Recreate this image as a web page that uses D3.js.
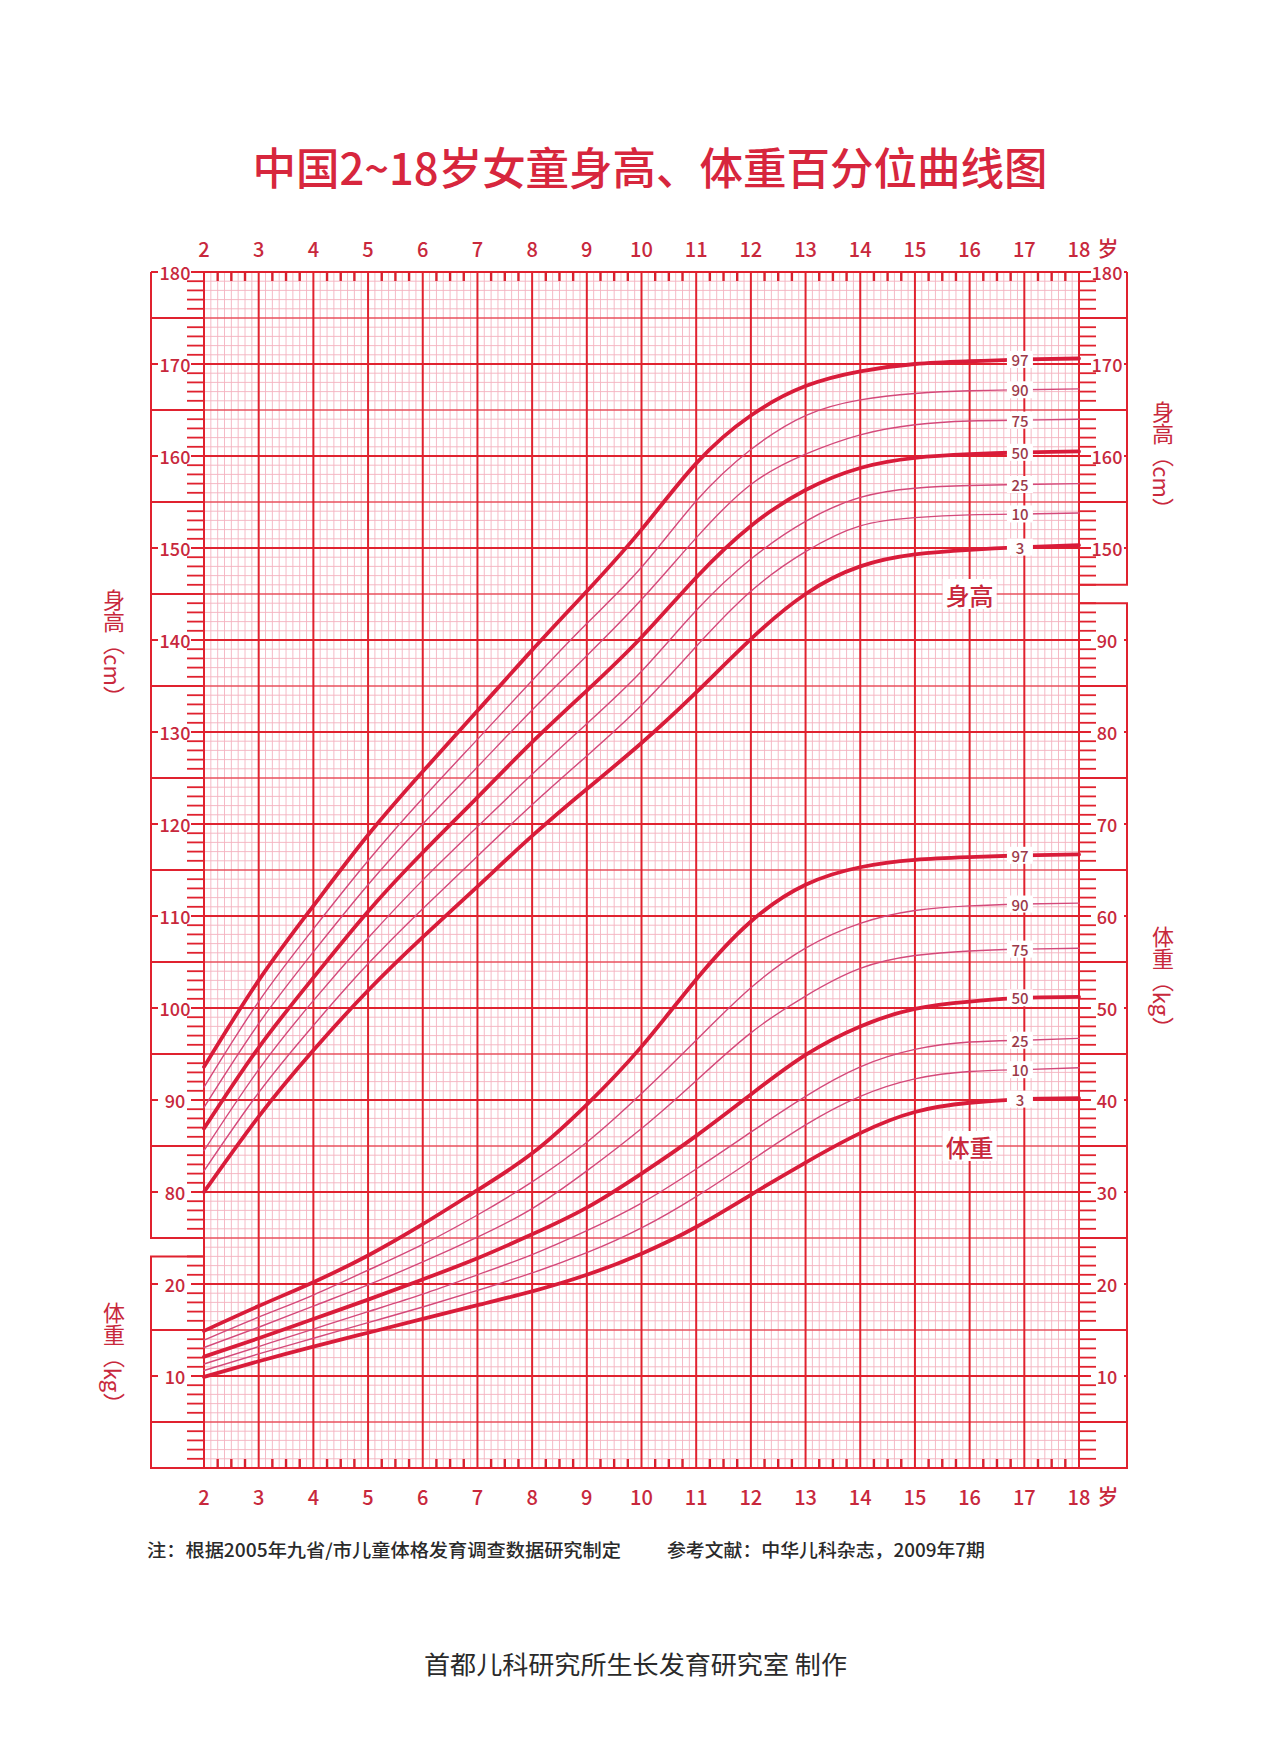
<!DOCTYPE html>
<html><head>
<meta charset="utf-8">
<title>中国2~18岁女童身高、体重百分位曲线图</title>
<script src="https://d3js.org/d3.v7.min.js"></script>
<style>
  body { margin: 0; background: #fff; }
  svg text { font-family: "Noto Sans CJK SC", "Noto Sans", sans-serif; }
  .num { font-size: 18px; fill: #c8283c; font-weight: 500; }
  .yr { font-size: 20px; fill: #c8283c; font-weight: 500; }
  .side { font-size: 22px; fill: #c8283c; writing-mode: vertical-rl; text-orientation: mixed; }
  .plab { font-size: 15px; fill: #9c3a4a; font-weight: 500; }
  .note { font-size: 18px; fill: #2a2a2a; font-weight: 500; }
</style>
</head>
<body>
<script>
// ages (years) and percentile names
var ages = [2, 3, 4, 5, 6, 7, 8, 9, 10, 11, 12, 13, 14, 15, 16, 17, 18];
var pctNames = ["3", "10", "25", "50", "75", "90", "97"];

// height (cm), one array per percentile
var heightP3  = [80.0, 88.2, 95.4, 101.9, 107.7, 113.2, 118.7, 123.8, 128.8, 134.3, 140.1, 145.0, 148.0, 149.3, 149.8, 150.1, 150.3];
var heightP10 = [82.3, 90.8, 98.1, 104.8, 110.8, 116.5, 122.1, 127.4, 132.9, 139.3, 145.3, 149.6, 152.4, 153.3, 153.6, 153.7, 153.8];
var heightP25 = [84.5, 93.3, 100.8, 107.6, 113.9, 119.7, 125.4, 130.9, 136.6, 143.2, 148.8, 152.9, 155.5, 156.5, 156.8, 156.9, 157.0];
var heightP50 = [86.9, 95.7, 103.3, 110.5, 116.9, 122.9, 128.9, 134.5, 140.3, 146.8, 152.4, 156.3, 158.7, 159.8, 160.2, 160.4, 160.5];
var heightP75 = [89.2, 98.3, 106.1, 113.4, 120.0, 126.2, 132.4, 138.3, 144.4, 151.1, 156.9, 160.2, 162.3, 163.4, 163.8, 163.9, 164.0];
var heightP90 = [91.4, 100.7, 108.6, 116.0, 122.8, 129.2, 135.6, 141.8, 147.9, 155.1, 160.7, 164.4, 166.1, 166.8, 167.1, 167.2, 167.3];
var heightP97 = [93.6, 103.0, 111.1, 118.8, 125.7, 132.3, 138.9, 145.3, 152.0, 159.2, 164.4, 167.6, 169.2, 170.0, 170.3, 170.5, 170.6];

// weight (kg)
var weightP3  = [9.9, 11.6, 13.2, 14.7, 16.2, 17.7, 19.2, 21.0, 23.3, 26.2, 29.7, 33.2, 36.4, 38.7, 39.7, 40.1, 40.2];
var weightP10 = [10.6, 12.4, 14.1, 15.8, 17.5, 19.3, 21.2, 23.4, 26.1, 29.5, 33.4, 37.3, 40.4, 42.3, 43.1, 43.3, 43.5];
var weightP25 = [11.3, 13.2, 15.1, 17.0, 18.9, 21.0, 23.2, 25.8, 28.8, 32.5, 36.5, 40.4, 43.6, 45.5, 46.3, 46.5, 46.7];
var weightP50 = [12.1, 14.1, 16.2, 18.3, 20.5, 22.8, 25.4, 28.3, 32.0, 36.1, 40.6, 44.9, 48.0, 49.9, 50.7, 51.1, 51.2];
var weightP75 = [13.1, 15.3, 17.6, 19.9, 22.4, 25.1, 28.2, 32.3, 36.9, 42.1, 47.3, 51.3, 54.3, 55.7, 56.2, 56.4, 56.5];
var weightP90 = [13.9, 16.4, 18.8, 21.5, 24.3, 27.5, 31.1, 35.4, 40.7, 46.5, 52.2, 56.5, 59.2, 60.6, 61.1, 61.3, 61.4];
var weightP97 = [14.9, 17.6, 20.2, 23.1, 26.5, 30.2, 34.2, 39.5, 45.8, 53.1, 59.4, 63.4, 65.3, 66.1, 66.4, 66.6, 66.7];

var heightSeries = [heightP3, heightP10, heightP25, heightP50, heightP75, heightP90, heightP97];
var weightSeries = [weightP3, weightP10, weightP25, weightP50, weightP75, weightP90, weightP97];

// axis labels
var heightLeftLabels = [80, 90, 100, 110, 120, 130, 140, 150, 160, 170, 180];
var heightRightLabels = [150, 160, 170, 180];
var weightLeftLabels = [10, 20];
var weightRightLabels = [10, 20, 30, 40, 50, 60, 70, 80, 90];

var W = 1279, H = 1758;
var X0 = 204, X1 = 1079, YT = 272, YB = 1468;
var LB = 151, RB = 1127;
var RED = "#e0222f", RED2 = "#e8505c", PINK = "#f4b2c0";

var svg = d3.select("body").append("svg")
    .attr("width", W).attr("height", H)
    .style("background", "#fff");

var x = d3.scaleLinear().domain([2, 18]).range([X0, X1]);
var yH = d3.scaleLinear().domain([50, 180]).range([YB, YT]);
var yW = d3.scaleLinear().domain([0, 130]).range([YB, YT]);

// title
svg.append("text")
    .attr("x", 650).attr("y", 166)
    .attr("text-anchor", "middle").attr("dominant-baseline", "central")
    .attr("textLength", 795).attr("lengthAdjust", "spacingAndGlyphs")
    .style("font-size", "44px").style("fill", "#d7263d").style("font-weight", 500)
    .text("中国2~18岁女童身高、体重百分位曲线图");

// ---- grid ----
var grid = svg.append("g");
var vals = d3.range(50, 181);
var vsteps = d3.range(0, 16 * 8 + 1);

function hline(g, v, col, w) {
    g.append("line").attr("x1", X0).attr("x2", X1)
        .attr("y1", yH(v)).attr("y2", yH(v))
        .attr("stroke", col).attr("stroke-width", w);
}
function vline(g, a, col, w) {
    g.append("line").attr("x1", x(a)).attr("x2", x(a))
        .attr("y1", YT).attr("y2", YB)
        .attr("stroke", col).attr("stroke-width", w);
}
// minor
vals.filter(function(v) { return v % 5 != 0; }).forEach(function(v) { hline(grid, v, PINK, 0.9); });
vsteps.filter(function(k) { return k % 8 != 0; }).forEach(function(k) { vline(grid, 2 + k / 8, PINK, 0.9); });
// 5s
vals.filter(function(v) { return v % 5 == 0 && v % 10 != 0; }).forEach(function(v) { hline(grid, v, RED2, 1.3); });
// majors
vals.filter(function(v) { return v % 10 == 0; }).forEach(function(v) { hline(grid, v, RED, 2); });
ages.forEach(function(a) { vline(grid, a, RED, 2); });

// quarter ticks top & bottom
vsteps.filter(function(k) { return k % 2 == 0 && k % 8 != 0; }).forEach(function(k) {
    var a = 2 + k / 8;
    grid.append("line").attr("x1", x(a)).attr("x2", x(a)).attr("y1", YT).attr("y2", YT + 9)
        .attr("stroke", "#d8202e").attr("stroke-width", 2.4);
    grid.append("line").attr("x1", x(a)).attr("x2", x(a)).attr("y1", YB).attr("y2", YB - 9)
        .attr("stroke", "#d8202e").attr("stroke-width", 2.4);
});

// ---- side boxes ----
var side = svg.append("g").attr("stroke", RED).attr("stroke-width", 2).attr("fill", "none");
function box(inner, outer, y1, y2, top) {
    // top edge only when no label sits on it
    var d = top ? "M" + inner + "," + y1 + "H" + outer : "M" + outer + "," + y1;
    d += "V" + y2 + "H" + inner;
    side.append("path").attr("d", d);
}
box(X0, LB, yH(180), yH(75), false);
box(X0, LB, yW(23), yW(0), true);
box(X1, RB, yH(180), yH(146), false);
box(X1, RB, yW(94), yW(0), true);

function sideScale(scale, lo, hi, labels, isLeft) {
    var edge = isLeft ? X0 : X1, outer = isLeft ? LB : RB, dir = isLeft ? -1 : 1;
    var cx = isLeft ? 175 : 1107;
    d3.range(lo, hi + 1).forEach(function(v) {
        var y = scale(v);
        if (labels.indexOf(v) >= 0) {
            side.append("line").attr("x1", edge).attr("x2", cx - dir * 16)
                .attr("y1", y).attr("y2", y);
            side.append("line").attr("x1", outer).attr("x2", cx + dir * 17)
                .attr("y1", y).attr("y2", y);
            svg.append("text").attr("class", "num")
                .attr("x", cx).attr("y", y)
                .attr("text-anchor", "middle").attr("dominant-baseline", "central")
                .text(v);
        } else if (v % 5 == 0) {
            side.append("line").attr("x1", edge).attr("x2", outer).attr("y1", y).attr("y2", y);
        } else {
            side.append("line").attr("x1", edge).attr("x2", edge + dir * 17)
                .attr("y1", y).attr("y2", y).attr("stroke-width", 1.8);
        }
    });
}
sideScale(yH, 75, 180, heightLeftLabels, true);
sideScale(yW, 0, 23, weightLeftLabels, true);
sideScale(yH, 146, 180, heightRightLabels, false);
sideScale(yW, 0, 94, weightRightLabels, false);

// year labels
[[248, "top"], [1496, "bottom"]].forEach(function(p) {
    svg.append("g").selectAll("text").data(ages).join("text")
        .attr("class", "yr")
        .attr("x", function(d) { return x(d); }).attr("y", p[0])
        .attr("text-anchor", "middle").attr("dominant-baseline", "central")
        .text(function(d) { return d; });
    svg.append("text").attr("class", "yr").style("font-size", "21px")
        .attr("x", x(18) + 29).attr("y", p[0] - 1)
        .attr("text-anchor", "middle").attr("dominant-baseline", "central")
        .text("岁");
});

// side titles (vertical)
[[114, 648, "身高（cm）"], [114, 1358, "体重（kg）"], [1163, 460, "身高（cm）"], [1163, 982, "体重（kg）"]]
    .forEach(function(t) {
        svg.append("text").attr("class", "side")
            .attr("x", t[0]).attr("y", t[1])
            .attr("text-anchor", "middle")
            .text(t[2]);
    });

// ---- curves ----
var line = d3.line().curve(d3.curveNatural);
function drawCurves(series, scale) {
    var g = svg.append("g").attr("fill", "none");
    series.forEach(function(vs, i) {
        var thick = (i == 0 || i == 3 || i == 6);
        g.append("path")
            .attr("d", line(ages.map(function(a, j) { return [x(a), scale(vs[j])]; })))
            .attr("stroke", thick ? "#d91c3a" : "#d4497a")
            .attr("stroke-width", thick ? 3.8 : 1.4)
            .attr("stroke-linecap", "round");
    });
    var lx = x(16.92);
    series.forEach(function(vs, i) {
        var y = scale(vs[15]);
        svg.append("rect").attr("x", lx - 13).attr("y", y - 8.5)
            .attr("width", 26).attr("height", 17).attr("fill", "#fff");
        svg.append("text").attr("class", "plab")
            .attr("x", lx).attr("y", y)
            .attr("text-anchor", "middle").attr("dominant-baseline", "central")
            .text(pctNames[i]);
    });
}
drawCurves(heightSeries, yH);
drawCurves(weightSeries, yW);

// in-chart names
[[yH(145), "身高"], [yW(35), "体重"]].forEach(function(t) {
    svg.append("rect").attr("x", x(16) - 27).attr("y", t[0] - 15)
        .attr("width", 54).attr("height", 30).attr("fill", "#fff");
    svg.append("text").attr("x", x(16)).attr("y", t[0])
        .attr("text-anchor", "middle").attr("dominant-baseline", "central")
        .style("font-size", "24px").style("fill", "#c8283c").style("font-weight", 500)
        .text(t[1]);
});

// notes & footer
svg.append("text").attr("class", "note")
    .attr("x", 147).attr("y", 1549).attr("dominant-baseline", "central")
    .attr("textLength", 474).attr("lengthAdjust", "spacingAndGlyphs")
    .text("注：根据2005年九省/市儿童体格发育调查数据研究制定");
svg.append("text").attr("class", "note")
    .attr("x", 667).attr("y", 1549).attr("dominant-baseline", "central")
    .attr("textLength", 318).attr("lengthAdjust", "spacingAndGlyphs")
    .text("参考文献：中华儿科杂志，2009年7期");
svg.append("text")
    .attr("x", 424).attr("y", 1663).attr("dominant-baseline", "central")
    .attr("textLength", 423).attr("lengthAdjust", "spacingAndGlyphs")
    .style("font-size", "25px").style("fill", "#2a2a2a")
    .text("首都儿科研究所生长发育研究室 制作");
</script>
</body></html>
